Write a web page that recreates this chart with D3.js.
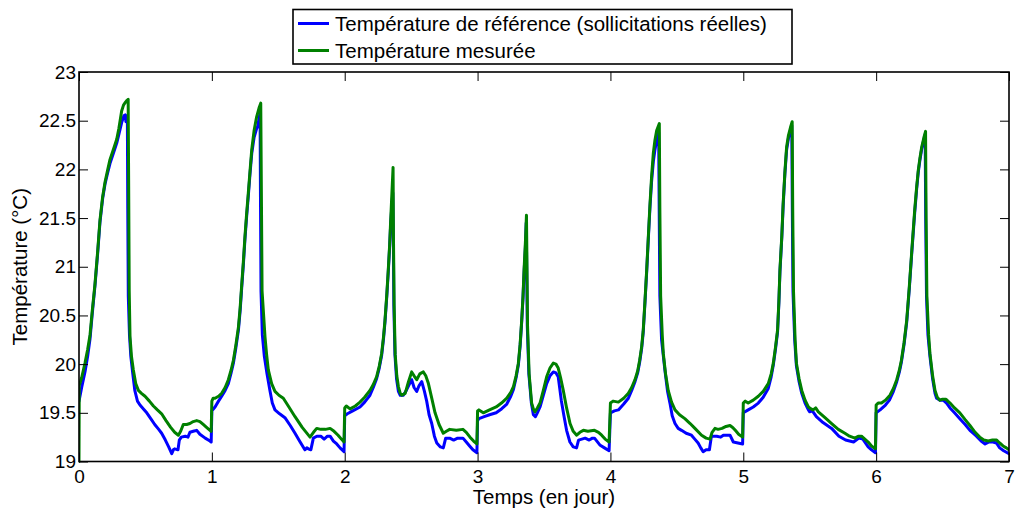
<!DOCTYPE html>
<html>
<head>
<meta charset="utf-8">
<script src="https://cdn.jsdelivr.net/npm/d3@7"></script>
<style>
  html, body { margin: 0; padding: 0; background: #fff; }
  svg { display: block; font-family: "Liberation Sans", Arial, Helvetica, sans-serif; }
</style>
</head>
<body>
<svg id="chart" width="1021" height="511"></svg>
<script>
// ---- Data ----
const seriesNames = ["Température de référence (sollicitations réelles)", "Température mesurée"];
const seriesColors = ["#0000ff", "#008000"];
const xTicks = [0, 1, 2, 3, 4, 5, 6, 7];
const yTicks = [19, 19.5, 20, 20.5, 21, 21.5, 22, 22.5, 23];
const xLabel = "Temps (en jour)";
const yLabel = "Température (°C)";

// Température de référence (blue): time (days) and value (°C)
const refT = [
 0,0.02,0.045,0.065,0.083,0.10,0.12,0.14,0.158,0.178,0.196,0.215,0.233,0.26,0.284,0.30,0.321,0.338,0.348,0.353,0.36,0.364,0.367,0.371,0.38,0.39,0.405,0.42,0.44,0.459,0.485,0.51,0.54,0.57,0.60,0.622,0.65,0.675,0.698,0.71,0.72,0.745,0.755,0.77,0.80,0.82,0.835,0.86,0.886,0.91,0.95,0.986,0.995,
 1.0,1.024,1.05,1.074,1.10,1.124,1.145,1.162,1.18,1.20,1.213,1.224,1.237,1.249,1.262,1.274,1.287,1.30,1.318,1.337,1.345,1.355,1.363,1.366,1.37,1.38,1.395,1.415,1.437,1.455,1.475,1.51,1.55,1.59,1.626,1.66,1.70,1.715,1.726,1.745,1.764,1.79,1.82,1.845,1.87,1.89,1.915,1.94,1.965,1.995,
 2.0,2.02,2.06,2.115,2.15,2.19,2.215,2.24,2.26,2.278,2.292,2.303,2.316,2.328,2.338,2.346,2.356,2.362,2.366,2.37,2.378,2.39,2.404,2.418,2.44,2.46,2.485,2.504,2.522,2.542,2.56,2.58,2.60,2.617,2.635,2.655,2.675,2.693,2.72,2.742,2.76,2.79,2.82,2.85,2.89,2.915,2.94,2.965,2.995,
 3.0,3.01,3.05,3.09,3.14,3.18,3.22,3.25,3.27,3.29,3.307,3.32,3.332,3.342,3.35,3.36,3.366,3.37,3.374,3.386,3.405,3.42,3.435,3.45,3.47,3.495,3.52,3.545,3.57,3.59,3.607,3.63,3.65,3.67,3.695,3.72,3.745,3.76,3.785,3.81,3.84,3.865,3.88,3.92,3.955,3.99,
 4.0,4.03,4.06,4.10,4.135,4.16,4.185,4.205,4.22,4.235,4.247,4.26,4.273,4.285,4.298,4.31,4.323,4.335,4.348,4.363,4.367,4.372,4.385,4.41,4.43,4.448,4.465,4.486,4.51,4.535,4.57,4.61,4.635,4.66,4.68,4.698,4.72,4.745,4.76,4.80,4.83,4.85,4.90,4.925,4.96,4.995,
 5.0,5.037,5.075,5.113,5.15,5.188,5.21,5.226,5.243,5.258,5.268,5.276,5.29,5.30,5.313,5.326,5.34,5.355,5.365,5.369,5.374,5.387,5.40,5.42,5.44,5.465,5.49,5.50,5.52,5.55,5.60,5.665,5.72,5.77,5.83,5.87,5.90,5.94,5.965,5.995,
 6.0,6.03,6.07,6.10,6.13,6.155,6.175,6.19,6.21,6.23,6.25,6.267,6.29,6.305,6.317,6.33,6.343,6.36,6.369,6.373,6.379,6.39,6.405,6.425,6.443,6.455,6.48,6.505,6.53,6.556,6.59,6.63,6.67,6.706,6.73,6.755,6.79,6.82,6.85,6.88,6.905,6.93,6.96,7.0
];
const refV = [
 19.62,19.76,19.92,20.08,20.26,20.52,20.80,21.13,21.46,21.70,21.85,21.96,22.06,22.17,22.27,22.36,22.48,22.55,22.56,22.49,22.52,22.55,21.6,20.70,20.30,20.08,19.90,19.73,19.62,19.58,19.54,19.50,19.44,19.38,19.33,19.29,19.22,19.15,19.08,19.12,19.13,19.12,19.22,19.25,19.26,19.25,19.30,19.31,19.32,19.28,19.24,19.21,19.20,
 19.52,19.56,19.62,19.67,19.73,19.80,19.91,20.01,20.16,20.35,20.55,20.77,21.02,21.28,21.52,21.72,21.95,22.16,22.33,22.42,22.44,22.52,22.58,21.7,20.75,20.30,20.08,19.90,19.73,19.60,19.53,19.49,19.45,19.37,19.29,19.21,19.12,19.14,19.13,19.12,19.24,19.26,19.26,19.23,19.26,19.26,19.21,19.18,19.14,19.10,
 19.47,19.49,19.52,19.56,19.61,19.68,19.76,19.85,19.96,20.09,20.26,20.43,20.68,20.95,21.20,21.44,21.65,21.76,21.3,20.6,20.10,19.85,19.72,19.68,19.68,19.72,19.79,19.84,19.76,19.72,19.78,19.82,19.72,19.62,19.48,19.39,19.26,19.19,19.15,19.14,19.24,19.24,19.22,19.24,19.24,19.20,19.16,19.12,19.09,
 19.42,19.44,19.46,19.48,19.50,19.54,19.59,19.67,19.74,19.86,19.99,20.18,20.43,20.68,20.94,21.20,21.45,21.0,20.40,19.90,19.60,19.48,19.46,19.50,19.56,19.68,19.80,19.88,19.92,19.91,19.87,19.63,19.47,19.32,19.20,19.15,19.14,19.22,19.23,19.24,19.22,19.24,19.24,19.17,19.14,19.11,
 19.50,19.52,19.53,19.59,19.65,19.73,19.82,19.91,20.02,20.16,20.33,20.63,20.95,21.28,21.62,21.88,22.08,22.20,22.30,22.38,21.6,20.70,20.25,19.94,19.72,19.60,19.47,19.39,19.34,19.32,19.29,19.27,19.23,19.19,19.14,19.10,19.12,19.12,19.26,19.26,19.25,19.27,19.27,19.20,19.19,19.18,
 19.50,19.53,19.56,19.60,19.66,19.75,19.87,19.99,20.16,20.33,20.63,20.95,21.30,21.62,21.95,22.20,22.32,22.40,22.45,21.6,20.75,20.25,19.98,19.82,19.70,19.60,19.53,19.51,19.52,19.46,19.40,19.34,19.26,19.22,19.20,19.24,19.23,19.15,19.12,19.09,
 19.50,19.53,19.58,19.63,19.72,19.82,19.92,20.02,20.20,20.43,20.78,21.12,21.55,21.80,21.97,22.10,22.21,22.31,22.36,21.5,20.70,20.30,20.08,19.85,19.70,19.65,19.63,19.63,19.60,19.55,19.50,19.44,19.38,19.32,19.29,19.26,19.21,19.18,19.20,19.20,19.19,19.14,19.11,19.08
];

// Température mesurée (green): time (days) and value (°C)
const mesT = [
 0,0.002,0.02,0.045,0.065,0.083,0.10,0.12,0.14,0.158,0.178,0.196,0.215,0.233,0.26,0.284,0.30,0.321,0.335,0.35,0.362,0.370,0.374,0.378,0.384,0.395,0.409,0.427,0.447,0.47,0.497,0.53,0.56,0.59,0.622,0.655,0.69,0.72,0.748,0.765,0.785,0.81,0.835,0.86,0.886,0.91,0.935,0.96,0.986,0.995,
 1.0,1.01,1.024,1.05,1.074,1.10,1.124,1.145,1.162,1.18,1.20,1.213,1.224,1.237,1.249,1.262,1.274,1.287,1.30,1.318,1.337,1.355,1.368,1.372,1.378,1.40,1.412,1.425,1.45,1.475,1.505,1.538,1.58,1.626,1.68,1.739,1.765,1.789,1.82,1.855,1.89,1.92,1.95,1.975,1.995,
 2.0,2.012,2.04,2.08,2.115,2.15,2.19,2.215,2.24,2.26,2.278,2.292,2.303,2.316,2.328,2.338,2.346,2.356,2.364,2.367,2.372,2.38,2.392,2.404,2.418,2.43,2.455,2.48,2.504,2.522,2.542,2.565,2.592,2.61,2.63,2.655,2.68,2.71,2.742,2.765,2.79,2.84,2.89,2.915,2.943,2.97,2.995,
 3.0,3.01,3.043,3.09,3.14,3.18,3.22,3.25,3.27,3.29,3.307,3.32,3.332,3.342,3.35,3.36,3.368,3.372,3.376,3.388,3.407,3.42,3.432,3.45,3.47,3.495,3.52,3.545,3.57,3.59,3.607,3.625,3.645,3.67,3.696,3.72,3.746,3.77,3.796,3.83,3.88,3.91,3.934,3.96,3.99,
 4.0,4.02,4.06,4.10,4.135,4.16,4.185,4.205,4.22,4.235,4.247,4.26,4.273,4.285,4.298,4.31,4.323,4.335,4.348,4.368,4.372,4.378,4.39,4.398,4.415,4.435,4.46,4.486,4.52,4.56,4.6,4.636,4.686,4.72,4.75,4.765,4.787,4.81,4.84,4.87,4.90,4.92,4.94,4.965,4.995,
 5.0,5.015,5.037,5.075,5.113,5.15,5.188,5.21,5.226,5.243,5.258,5.268,5.276,5.29,5.30,5.313,5.326,5.34,5.355,5.368,5.372,5.378,5.39,5.40,5.42,5.44,5.465,5.49,5.51,5.525,5.545,5.565,5.615,5.665,5.715,5.765,5.80,5.84,5.865,5.89,5.915,5.94,5.965,5.995,
 6.0,6.015,6.04,6.07,6.104,6.13,6.155,6.175,6.19,6.21,6.23,6.25,6.267,6.29,6.305,6.317,6.33,6.343,6.36,6.372,6.376,6.382,6.395,6.405,6.425,6.443,6.46,6.48,6.50,6.526,6.54,6.556,6.59,6.63,6.67,6.706,6.745,6.78,6.81,6.844,6.875,6.907,6.93,6.955,6.98,7.0
];
const mesV = [
 19.00,19.78,19.86,20.01,20.15,20.30,20.55,20.82,21.15,21.48,21.72,21.87,21.99,22.10,22.21,22.31,22.42,22.60,22.66,22.69,22.71,22.72,21.8,20.75,20.28,20.08,19.94,19.80,19.73,19.70,19.67,19.62,19.57,19.53,19.49,19.42,19.35,19.30,19.27,19.31,19.38,19.38,19.39,19.41,19.42,19.41,19.38,19.35,19.32,19.31,
 19.62,19.65,19.65,19.67,19.70,19.76,19.84,19.94,20.04,20.19,20.38,20.58,20.80,21.05,21.31,21.55,21.75,21.98,22.20,22.40,22.54,22.63,22.68,21.9,20.75,20.28,20.10,19.94,19.80,19.72,19.68,19.65,19.56,19.46,19.35,19.25,19.30,19.34,19.33,19.33,19.34,19.31,19.27,19.23,19.20,
 19.55,19.57,19.54,19.57,19.61,19.66,19.73,19.79,19.87,19.98,20.11,20.28,20.45,20.70,20.97,21.22,21.48,21.78,22.02,21.3,20.60,20.10,19.88,19.77,19.70,19.68,19.70,19.82,19.92,19.88,19.84,19.90,19.92,19.88,19.80,19.65,19.50,19.38,19.29,19.31,19.33,19.32,19.33,19.30,19.25,19.21,19.18,
 19.52,19.53,19.50,19.53,19.56,19.60,19.65,19.71,19.77,19.88,20.01,20.20,20.45,20.70,20.97,21.25,21.53,21.0,20.40,19.90,19.60,19.54,19.51,19.55,19.60,19.73,19.87,19.96,20.01,20.00,19.96,19.86,19.73,19.55,19.39,19.31,19.27,19.30,19.32,19.31,19.32,19.30,19.27,19.23,19.20,
 19.60,19.62,19.61,19.65,19.70,19.76,19.84,19.93,20.04,20.18,20.35,20.65,20.97,21.30,21.65,21.93,22.17,22.30,22.40,22.47,21.6,20.70,20.30,20.11,19.90,19.73,19.61,19.53,19.48,19.44,19.39,19.34,19.27,19.24,19.23,19.30,19.34,19.33,19.34,19.36,19.37,19.35,19.32,19.28,19.25,
 19.60,19.62,19.60,19.63,19.67,19.72,19.80,19.90,20.01,20.18,20.35,20.65,20.97,21.32,21.65,21.97,22.23,22.35,22.43,22.49,21.6,20.75,20.25,20.01,19.85,19.73,19.63,19.56,19.54,19.53,19.55,19.51,19.45,19.39,19.33,19.29,19.26,19.24,19.26,19.26,19.23,19.20,19.16,19.13,
 19.58,19.60,19.60,19.63,19.68,19.75,19.84,19.94,20.04,20.22,20.45,20.80,21.14,21.58,21.82,21.99,22.12,22.23,22.33,22.39,21.5,20.70,20.30,20.11,19.88,19.73,19.66,19.63,19.64,19.64,19.62,19.60,19.55,19.50,19.43,19.37,19.30,19.25,19.22,19.21,19.22,19.22,19.19,19.16,19.14,19.12
];

// ---- Drawing ----
const W = 1021, H = 511;
const margin = { left: 79, right: 12, top: 72, bottom: 49.5 };
const svg = d3.select("#chart");
const iw = W - margin.left - margin.right;
const ih = H - margin.top - margin.bottom;

const x = d3.scaleLinear().domain([0, 7]).range([margin.left, margin.left + iw]);
const y = d3.scaleLinear().domain([19, 23]).range([margin.top + ih, margin.top]);

const tickFont = "19px";
const labelFont = "20.5px";

// clip
svg.append("defs").append("clipPath").attr("id", "clip")
  .append("rect").attr("x", margin.left).attr("y", margin.top - 2)
  .attr("width", iw).attr("height", ih + 4);

// series
const line = d3.line().x(d => x(d[0])).y(d => y(d[1])).curve(d3.curveLinear);
const refData = refT.map((t, i) => [t, refV[i]]);
const mesData = mesT.map((t, i) => [t, mesV[i]]);
const g = svg.append("g").attr("clip-path", "url(#clip)");
[refData, mesData].forEach((dat, i) => {
  g.append("path").datum(dat).attr("d", line)
    .attr("fill", "none").attr("stroke", seriesColors[i])
    .attr("stroke-width", 3).attr("stroke-linejoin", "round").attr("stroke-linecap", "round");
});

// axes (inward ticks, on all four sides)
function styleAxis(sel, showText) {
  sel.select(".domain").remove();
  sel.selectAll(".tick line").attr("stroke", "#000").attr("stroke-width", 1);
  sel.selectAll(".tick text").attr("fill", "#000").style("font-size", tickFont)
     .style("font-family", "'Liberation Sans', Arial, sans-serif");
  if (!showText) sel.selectAll(".tick text").remove();
}
const fmt = d => String(d);
svg.append("g").attr("transform", `translate(0,${margin.top + ih})`)
  .call(d3.axisBottom(x).tickValues(xTicks).tickFormat(fmt).tickSizeInner(-9).tickSizeOuter(0).tickPadding(8))
  .call(s => styleAxis(s, true));
svg.append("g").attr("transform", `translate(0,${margin.top})`)
  .call(d3.axisTop(x).tickValues(xTicks).tickSizeInner(-9).tickSizeOuter(0))
  .call(s => styleAxis(s, false));
svg.append("g").attr("transform", `translate(${margin.left},0)`)
  .call(d3.axisLeft(y).tickValues(yTicks).tickFormat(fmt).tickSizeInner(-9).tickSizeOuter(0).tickPadding(3))
  .call(s => styleAxis(s, true));
svg.append("g").attr("transform", `translate(${margin.left + iw},0)`)
  .call(d3.axisRight(y).tickValues(yTicks).tickSizeInner(-9).tickSizeOuter(0))
  .call(s => styleAxis(s, false));

// frame
svg.append("rect").attr("x", margin.left).attr("y", margin.top)
  .attr("width", iw).attr("height", ih)
  .attr("fill", "none").attr("stroke", "#000").attr("stroke-width", 1.6);

// axis labels
svg.append("text").attr("x", margin.left + iw / 2).attr("y", 504)
  .attr("text-anchor", "middle").style("font-size", labelFont).attr("fill", "#000")
  .text(xLabel);
svg.append("text").attr("transform", `translate(27,${margin.top + ih / 2}) rotate(-90)`)
  .attr("text-anchor", "middle").style("font-size", labelFont).attr("fill", "#000")
  .text(yLabel);

// legend
const lg = svg.append("g");
lg.append("rect").attr("x", 293).attr("y", 9.5).attr("width", 499).attr("height", 54.5)
  .attr("fill", "#fff").attr("stroke", "#000").attr("stroke-width", 1.6);
seriesNames.forEach((name, i) => {
  const cy = 23.5 + i * 27;
  lg.append("line").attr("x1", 298).attr("x2", 329).attr("y1", cy).attr("y2", cy)
    .attr("stroke", seriesColors[i]).attr("stroke-width", 3);
  lg.append("text").attr("x", 335).attr("y", cy + 7.5)
    .style("font-size", labelFont).attr("fill", "#000").text(name);
});
</script>
</body>
</html>
